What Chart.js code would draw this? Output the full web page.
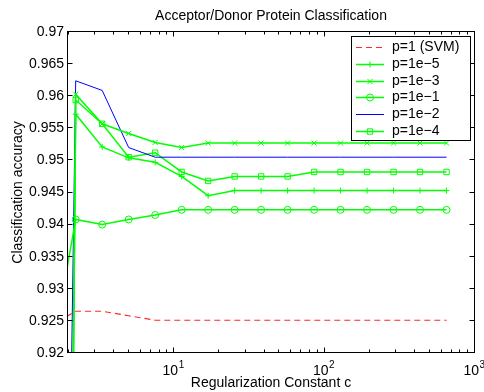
<!DOCTYPE html>
<html>
<head>
<meta charset="utf-8">
<script src="https://cdn.jsdelivr.net/npm/chart.js@4/dist/chart.umd.min.js"></script>
<style>
  html, body { margin: 0; padding: 0; background: #fff; }
  canvas { display: block; }
</style>
</head>
<body>
<canvas id="chart" width="484" height="392"></canvas>
<script>
const FONT = "'Liberation Sans', Arial, Helvetica, sans-serif";

// regularization constant c (x axis, log scale)
const cValues = [1.5, 2.25, 3.375, 5.0625, 7.594, 11.39, 17.09, 25.63, 38.44, 57.67, 86.5, 129.7, 194.6, 291.9, 437.9, 656.8];

// accuracy per series
const accP1    = [0.9241, 0.9265, 0.9265, 0.9258, 0.9251, 0.9251, 0.9251, 0.9251, 0.9251, 0.9251, 0.9251, 0.9251, 0.9251, 0.9251, 0.9251, 0.9251];
const accP1e5  = [0.50, 0.9572, 0.9521, 0.9504, 0.9497, 0.9475, 0.9445, 0.9453, 0.9453, 0.9453, 0.9453, 0.9453, 0.9453, 0.9453, 0.9453, 0.9453];
const accP1e3  = [0.50, 0.9603, 0.9557, 0.9542, 0.9528, 0.9520, 0.9527, 0.9527, 0.9527, 0.9527, 0.9527, 0.9527, 0.9527, 0.9527, 0.9527, 0.9527];
const accP1e1  = [0.9176, 0.9408, 0.9400, 0.9408, 0.9415, 0.9423, 0.9423, 0.9423, 0.9423, 0.9423, 0.9423, 0.9423, 0.9423, 0.9423, 0.9423, 0.9423];
const accP1e2  = [0.68, 0.9624, 0.9609, 0.9520, 0.9505, 0.9505, 0.9505, 0.9505, 0.9505, 0.9505, 0.9505, 0.9505, 0.9505, 0.9505, 0.9505, 0.9505];
const accP1e4  = [0.50, 0.9594, 0.9557, 0.9505, 0.9512, 0.9482, 0.9468, 0.9475, 0.9475, 0.9475, 0.9482, 0.9482, 0.9482, 0.9482, 0.9482, 0.9482];

const seriesNames = ['p=1 (SVM)', 'p=1e\u22125', 'p=1e\u22123', 'p=1e\u22121', 'p=1e\u22122', 'p=1e\u22124'];

const yTicks = [0.92, 0.925, 0.93, 0.935, 0.94, 0.945, 0.95, 0.955, 0.96, 0.965, 0.97];
const xMajorTicks = [10, 100, 1000];
const xMajorExp = ['1', '2', '3'];

const GREEN = '#00ff00';

function toPoints(vals) {
    return cValues.map((c, i) => ({ x: c, y: vals[i] }));
}

function greenSet(label, vals, style, r) {
    return {
        label: label,
        data: toPoints(vals),
        borderColor: GREEN,
        borderWidth: 1.5,
        pointStyle: style,
        pointRadius: r,
        pointBorderColor: GREEN,
        pointBackgroundColor: 'rgba(0,0,0,0)',
        pointBorderWidth: 1,
        tension: 0
    };
}

// ejes estilo matlab: caja, ticks hacia dentro, etiquetas 10^n, titulo y leyenda
const matlabAxes = {
    id: 'matlabAxes',
    afterDatasetsDraw(chart) {
        const { ctx, chartArea: a, scales: { x, y } } = chart;
        ctx.save();
        ctx.strokeStyle = '#000';
        ctx.lineWidth = 1;
        const L = a.left - 0.5, R = a.right + 0.5, T = a.top - 0.5, B = a.bottom - 0.5;
        ctx.strokeRect(L, T, R - L, B - T);

        ctx.beginPath();
        yTicks.forEach(v => {
            const py = Math.round(y.getPixelForValue(v)) - 0.5;
            ctx.moveTo(L, py); ctx.lineTo(L + 5, py);
            ctx.moveTo(R, py); ctx.lineTo(R - 5, py);
        });
        // minor ticks (2..9 x decade)
        [1, 10, 100].forEach(d => {
            for (let k = 2; k <= 9; k++) {
                const v = d * k;
                if (v < 2) continue;
                const px = Math.round(x.getPixelForValue(v)) + 0.5;
                ctx.moveTo(px, B); ctx.lineTo(px, B - 3);
                ctx.moveTo(px, T); ctx.lineTo(px, T + 3);
            }
        });
        xMajorTicks.forEach(v => {
            const px = Math.round(x.getPixelForValue(v)) + 0.5;
            ctx.moveTo(px, B); ctx.lineTo(px, B - 5);
            ctx.moveTo(px, T); ctx.lineTo(px, T + 5);
        });
        ctx.stroke();

        // x labels with exponent
        ctx.fillStyle = '#000';
        ctx.textBaseline = 'alphabetic';
        ctx.textAlign = 'left';
        xMajorTicks.forEach((v, i) => {
            const px = x.getPixelForValue(v);
            ctx.font = '14px ' + FONT;
            const wb = ctx.measureText('10').width;
            ctx.font = '10px ' + FONT;
            const we = ctx.measureText(xMajorExp[i]).width;
            const sx = px - (wb + we) / 2;
            ctx.font = '14px ' + FONT;
            ctx.fillText('10', sx, 375);
            ctx.font = '10px ' + FONT;
            ctx.fillText(xMajorExp[i], sx + wb + 0.5, 368);
        });

        // title
        ctx.font = '14px ' + FONT;
        ctx.textAlign = 'center';
        ctx.fillText('Acceptor/Donor Protein Classification', (a.left + a.right) / 2, 20);

        // legend
        const lx = 351, ly = 36, lw = 119, lh = 104;
        ctx.fillStyle = '#fff';
        ctx.fillRect(lx, ly, lw, lh);
        ctx.strokeStyle = '#000';
        ctx.strokeRect(lx + 0.5, ly + 0.5, lw, lh);
        ctx.textAlign = 'left';
        ctx.textBaseline = 'middle';
        chart.data.datasets.forEach((ds, i) => {
            const ry = Math.round(ly + 11 + i * 16.8) + 0.5;
            ctx.save();
            ctx.strokeStyle = ds.borderColor;
            ctx.lineWidth = ds.borderWidth;
            ctx.setLineDash(ds.borderDash || []);
            ctx.beginPath();
            ctx.moveTo(356, ry); ctx.lineTo(384, ry);
            ctx.stroke();
            ctx.setLineDash([]);
            if (ds.pointRadius > 0 && Chart.helpers && Chart.helpers.drawPoint) {
                ctx.fillStyle = 'rgba(0,0,0,0)';
                ctx.lineWidth = 1;
                Chart.helpers.drawPoint(ctx, { pointStyle: ds.pointStyle, radius: ds.pointRadius, rotation: 0, borderWidth: 1 }, 370, ry);
            }
            ctx.restore();
            ctx.fillStyle = '#000';
            ctx.font = '14px ' + FONT;
            ctx.fillText(seriesNames[i], 392, ry);
        });
        ctx.restore();
    }
};

new Chart(document.getElementById('chart'), {
    type: 'line',
    data: {
        datasets: [
            {
                label: seriesNames[0],
                data: toPoints(accP1),
                borderColor: '#ff2a2a',
                borderWidth: 1.2,
                borderDash: [6, 4],
                pointRadius: 0,
                tension: 0
            },
            greenSet(seriesNames[1], accP1e5, 'cross', 3),
            greenSet(seriesNames[2], accP1e3, 'crossRot', 3.6),
            greenSet(seriesNames[3], accP1e1, 'circle', 3.5),
            {
                label: seriesNames[4],
                data: toPoints(accP1e2),
                borderColor: '#0000ff',
                borderWidth: 1,
                pointRadius: 0,
                tension: 0
            },
            greenSet(seriesNames[5], accP1e4, 'rect', 3.8)
        ]
    },
    options: {
        responsive: false,
        animation: false,
        layout: { padding: { left: 0, top: 32, right: 10, bottom: 0 } },
        plugins: { legend: { display: false }, tooltip: { enabled: false }, title: { display: false } },
        scales: {
            x: {
                type: 'logarithmic',
                min: 2,
                max: 1000,
                grid: { display: false, drawTicks: false },
                border: { display: false },
                ticks: { display: false },
                title: {
                    display: true,
                    text: 'Regularization Constant c',
                    color: '#000',
                    font: { family: FONT, size: 14 },
                    padding: { top: 0, bottom: 0 }
                },
                afterFit: s => { s.height = 39; }
            },
            y: {
                min: 0.92,
                max: 0.97,
                grid: { display: false, drawTicks: false },
                border: { display: false },
                afterBuildTicks: s => { s.ticks = yTicks.map(v => ({ value: v })); },
                ticks: {
                    color: '#000',
                    padding: 4,
                    font: { family: FONT, size: 14 },
                    callback: v => String(+v.toFixed(3))
                },
                title: {
                    display: true,
                    text: 'Classification accuracy',
                    color: '#000',
                    font: { family: FONT, size: 14 },
                    padding: { top: 10, bottom: 0 }
                },
                afterFit: s => { s.width = 68; }
            }
        }
    },
    plugins: [matlabAxes]
});
</script>
</body>
</html>
